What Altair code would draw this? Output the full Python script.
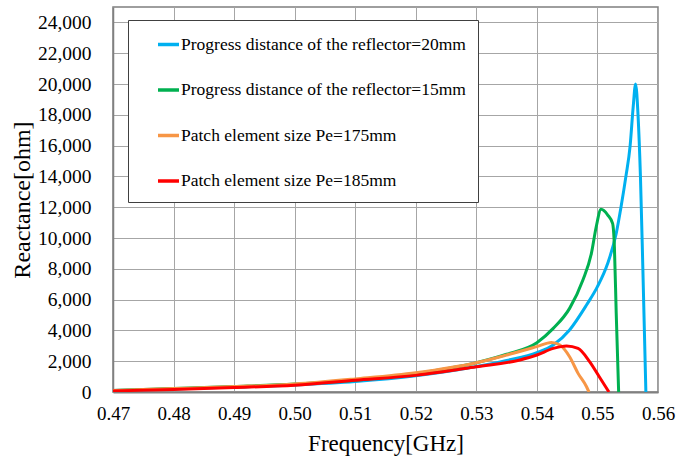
import altair as alt
import pandas as pd

SERIES = [
    "Progress distance of the reflector=20mm",
    "Progress distance of the reflector=15mm",
    "Patch element size Pe=175mm",
    "Patch element size Pe=185mm",
]
COLORS = ["#00B0F0", "#00B050", "#F79646", "#FF0000"]

# Progress distance 20 mm (blue)
f_20 = [0.47, 0.48, 0.49, 0.50, 0.51, 0.52, 0.53, 0.535, 0.54, 0.5427, 0.5454,
        0.5482, 0.55, 0.5517, 0.5531, 0.5539, 0.5547, 0.5554, 0.5559, 0.5563,
        0.5567, 0.5571, 0.5575, 0.558]
x_20 = [90, 200, 320, 460, 680, 1050, 1650, 2050, 2550, 3050, 4030,
        5650, 6840, 8360, 10300, 12030, 14000, 16000, 18500, 20000,
        18000, 14000, 8000, 0]

# Progress distance 15 mm (green)
f_15 = [0.47, 0.48, 0.49, 0.50, 0.51, 0.52, 0.53, 0.535, 0.54, 0.5427, 0.5454,
        0.5476, 0.549, 0.5498, 0.5506, 0.5517, 0.5525, 0.5528, 0.5531, 0.5535]
x_15 = [100, 220, 360, 520, 760, 1200, 1900, 2450, 3200, 4130, 5430,
        7270, 9000, 10730, 11860, 11490, 10950, 9430, 5120, 0]

# Patch element size 175 mm (orange)
f_175 = [0.47, 0.48, 0.49, 0.50, 0.51, 0.52, 0.53, 0.535, 0.54, 0.5424, 0.5438,
         0.5454, 0.5468, 0.5482, 0.5486]
x_175 = [100, 220, 350, 520, 850, 1250, 1900, 2400, 2950, 3220, 3050,
         2290, 1210, 340, 0]

# Patch element size 185 mm (red)
f_185 = [0.47, 0.48, 0.49, 0.50, 0.51, 0.52, 0.53, 0.5372, 0.54, 0.5427, 0.5449,
         0.5468, 0.5487, 0.5503, 0.5519]
x_185 = [70, 170, 290, 440, 760, 1080, 1640, 2080, 2400, 2830, 2990,
         2830, 1970, 990, 0]

X_TICKS = [0.47, 0.48, 0.49, 0.50, 0.51, 0.52, 0.53, 0.54, 0.55, 0.56]
Y_TICKS = [0, 2000, 4000, 6000, 8000, 10000, 12000, 14000, 16000, 18000,
           20000, 22000, 24000]

rows = []
for k, (name, fs, vs) in enumerate(zip(SERIES, [f_20, f_15, f_175, f_185],
                                       [x_20, x_15, x_175, x_185])):
    for f, v in zip(fs, vs):
        rows.append({"series": name, "k": k, "f": f, "v": v})
df = pd.DataFrame(rows)

FONT = "Liberation Serif"

chart = alt.Chart(df).mark_line(
    strokeWidth=3, interpolate="monotone", clip=True
).encode(
    x=alt.X("f:Q",
            scale=alt.Scale(domain=[0.47, 0.56], nice=False, zero=False),
            axis=alt.Axis(values=X_TICKS, format=".2f", title="Frequency[GHz]",
                          labelFont=FONT, titleFont=FONT,
                          labelFontSize=19, titleFontSize=23, labelPadding=12,
                          titlePadding=9, ticks=False, tickSize=0,
                          labelFlush=False, labelColor="black",
                          titleColor="black", titleFontWeight="normal",
                          domainColor="#808080", domainWidth=2)),
    y=alt.Y("v:Q",
            scale=alt.Scale(domain=[0, 25000], nice=False),
            axis=alt.Axis(values=Y_TICKS, format=",.0f", title="Reactance[ohm]",
                          labelFont=FONT, titleFont=FONT,
                          labelFontSize=19.5, titleFontSize=24, labelPadding=22,
                          titlePadding=3, ticks=False, tickSize=0,
                          labelFlush=False, labelColor="black",
                          titleColor="black", titleFontWeight="normal",
                          domainColor="#808080", domainWidth=1.5)),
    color=alt.Color("series:N",
                    scale=alt.Scale(domain=SERIES, range=COLORS),
                    legend=alt.Legend(
                        title=None, orient="none", legendX=15, legendY=13,
                        labelFont=FONT, labelFontSize=17.5, labelColor="black",
                        labelExpr="datum.label + '\u00a0\u00a0\u00a0\u00a0\u00a0\u00a0\u00a0'",
                        symbolType="stroke", symbolStrokeWidth=3.5,
                        symbolSize=441, symbolOffset=16, labelOffset=0,
                        rowPadding=24.5, padding=12,
                        strokeColor="#404040", fillColor="white",
                        labelLimit=500)),
    order=alt.Order("k:Q"),
    detail="series:N",
).properties(
    width=545, height=385,
    background="white",
    autosize=alt.AutoSizeParams(type="none"),
    padding={"left": 113, "top": 7, "right": 18, "bottom": 67},
).configure_view(
    stroke="#7f7f7f", strokeWidth=1.5
).configure_axis(
    labelFont=FONT, titleFont=FONT, labelColor="black", titleColor="black",
    titleFontWeight="normal", gridColor="#a6a6a6", gridWidth=1,
    grid=True
)

chart.save("out.html", embed_options={"renderer": "svg", "actions": False})
